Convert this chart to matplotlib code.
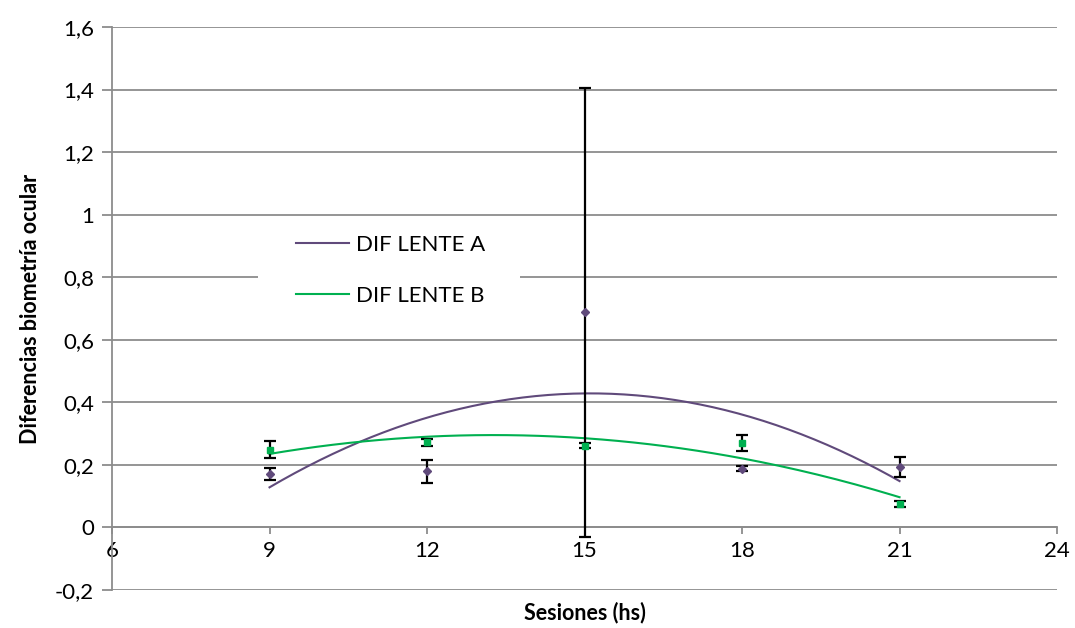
import numpy as np
import matplotlib
matplotlib.use("Agg")
import matplotlib.pyplot as plt
from matplotlib.patches import Rectangle
from matplotlib.ticker import FuncFormatter

plt.rcParams['font.family'] = ['Lato', 'DejaVu Sans']

sesiones = [9, 12, 15, 18, 21]
dif_a = [0.171, 0.179, 0.688, 0.187, 0.192]
err_a = [0.019, 0.038, 0.717, 0.008, 0.032]
dif_b = [0.248, 0.272, 0.262, 0.270, 0.076]
err_b = [0.027, 0.011, 0.009, 0.026, 0.010]

col_a = "#604a7b"
col_b = "#00b050"
grid_col = "#8c8c8c"

fig = plt.figure(figsize=(10.75, 6.28), dpi=100)
ax = fig.add_axes([0.1042, 0.0605, 0.8791, 0.8965])

# puntos con barras de error
ax.errorbar(sesiones, dif_a, yerr=err_a, fmt="D", color=col_a, ms=4,
            ecolor="black", elinewidth=1.6, capsize=4.5, capthick=1.6, zorder=4)
ax.errorbar(sesiones, dif_b, yerr=err_b, fmt="s", color=col_b, ms=5,
            ecolor="black", elinewidth=1.6, capsize=4.5, capthick=1.6, zorder=4)

# lineas de tendencia polinomica (orden 2)
xs = np.linspace(sesiones[0], sesiones[-1], 200)
pa = np.polyfit(sesiones, dif_a, 2)
pb = np.polyfit(sesiones, dif_b, 2)
ax.plot(xs, np.polyval(pa, xs), color=col_a, lw=1.5, label="DIF LENTE A", zorder=3)
ax.plot(xs, np.polyval(pb, xs), color=col_b, lw=1.5, label="DIF LENTE B", zorder=3)

ax.set_xlim(6, 24)
ax.set_ylim(-0.2, 1.6)
ax.set_xticks(np.arange(6, 25, 3))
ax.set_yticks(np.arange(-0.2, 1.61, 0.2))
ax.yaxis.set_major_formatter(FuncFormatter(
    lambda v, p: ("%g" % round(v, 1)).replace(".", ",")))

ax.grid(axis="y", color=grid_col, lw=1.3)
ax.set_axisbelow(True)
for s in ["top", "right"]:
    ax.spines[s].set_visible(False)
ax.spines["left"].set_color(grid_col)
ax.spines["left"].set_linewidth(1.3)
ax.spines["bottom"].set_position(("data", 0))
ax.spines["bottom"].set_color(grid_col)
ax.spines["bottom"].set_linewidth(1.3)
ax.tick_params(axis="y", colors=grid_col, length=7, width=1.3, labelcolor="black",
               labelsize=16, pad=6)
ax.tick_params(axis="x", colors=grid_col, length=5, width=1.3, labelcolor="black",
               labelsize=16, pad=5)

ax.set_xlabel("Sesiones (hs)", fontsize=15.5, fontweight="bold")
ax.xaxis.set_label_coords(0.5, -0.02)
ax.set_ylabel("Diferencias biometría ocular", fontsize=15.5, fontweight="bold")
ax.yaxis.set_label_coords(-0.075, 0.5)

# fondo blanco de la leyenda (tapa la linea de 0,8)
ax.add_patch(Rectangle((0.1545, 0.48), 0.277, 0.165, transform=ax.transAxes,
                       facecolor="white", edgecolor="none", zorder=1))
leg = ax.legend(loc="center left", bbox_to_anchor=(0.1545, 0.5675), borderaxespad=0,
                fontsize=16, frameon=False, handlelength=2.4, handletextpad=0.3,
                labelspacing=1.4, borderpad=1.7)

fig.savefig("out.png", dpi=100)
